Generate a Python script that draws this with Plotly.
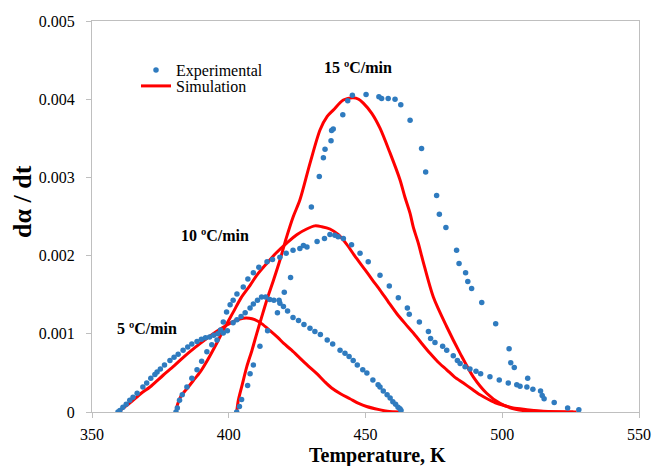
import plotly.graph_objects as go

# ---------------- data ----------------
exp5_T = [359.5, 360.2, 361.3, 362.5, 363.8, 365, 366.5, 368.6, 370, 371.5, 373, 373.8, 375, 376.5,
          378.5, 380, 381.5, 383.3, 385, 386.5, 388.4, 390, 391.5, 393, 394.5, 396, 398, 399.5,
          401.6, 403, 404.5, 406, 407.8, 409, 410.5, 412, 413.5, 415, 416.5, 418.7, 420, 421.5,
          423.5, 425.5, 427.5, 429.7, 431.5, 433.5, 436, 438, 440.7, 442.5, 444, 445.5, 447, 449,
          450.5, 452.7, 454.6, 455.3, 456.5, 457.9, 459, 460, 461, 461.9, 462.6, 463]
exp5_r = [0, 0.00002, 0.00006, 0.0001, 0.00015, 0.00019, 0.00024, 0.00032, 0.00037, 0.00043, 0.00048,
          0.00051, 0.00055, 0.0006, 0.00066, 0.0007, 0.00074, 0.00079, 0.00083, 0.00087, 0.0009,
          0.00093, 0.00095, 0.00096, 0.00098, 0.001, 0.00101, 0.00104, 0.00114, 0.00118, 0.00122,
          0.00127, 0.00133, 0.00138, 0.00143, 0.00147, 0.00147, 0.00144, 0.00143, 0.00139, 0.00135,
          0.00129, 0.00121, 0.00117, 0.00112, 0.00107, 0.00103, 0.00099, 0.00092, 0.00087, 0.00079,
          0.00075, 0.00071, 0.00066, 0.0006, 0.00054, 0.0005, 0.00041, 0.00035, 0.00032, 0.00027,
          0.00022, 0.00018, 0.00013, 0.0001, 0.00006, 0.00004, 0.00002]

exp10_T = [380.7, 381.2, 382, 383, 384.7, 386.5, 388.4, 390.1, 392, 393.8, 395.7, 397, 398, 399.2,
           400.5, 401.6, 403, 405.3, 407, 409, 411, 414, 416, 418.7, 421, 423.5, 426, 428.6, 432.3,
           435, 437, 438.8, 440, 441.9, 444.9, 448, 451, 455.3, 458.7, 462, 465.3, 466, 469.7, 473,
           473.8, 475.4, 478.2, 479.7, 482.1, 483.6, 484.6, 486.4, 488.2, 490.4, 492.1, 495.5, 498.9,
           502.2, 505.3, 506.5, 509, 511.2, 514, 514.6]
exp10_r = [0, 0.00005, 0.00015, 0.00022, 0.00032, 0.00043, 0.00054, 0.00065, 0.00077, 0.00086,
           0.00092, 0.00105, 0.00115, 0.00128, 0.00137, 0.00143, 0.00151, 0.0016, 0.0017, 0.00178,
           0.00185, 0.00192, 0.00195, 0.00198, 0.00203, 0.00207, 0.00209, 0.00211, 0.00218, 0.00222,
           0.00227, 0.00226, 0.00224, 0.00222, 0.00214, 0.00203, 0.00192, 0.00175, 0.00161, 0.00146,
           0.00133, 0.00125, 0.00115, 0.00103, 0.00094, 0.00089, 0.00084, 0.00079, 0.00072, 0.00066,
           0.00062, 0.00058, 0.00055, 0.00052, 0.00049, 0.00045, 0.00041, 0.00037, 0.00035, 0.00033,
           0.00032, 0.00029, 0.00027, 0.00021]

exp15_T = [402.9, 403.9, 404.7, 406.9, 407.8, 409, 411.4, 414.2, 417.8, 418.4, 420.3, 422.6, 427.3,
           430.2, 433.1, 434.6, 435.2, 437.4, 437.6, 438.2, 441.7, 443.5, 445.2, 450.2, 454.9, 455.9,
           458.3, 460.8, 462.9, 466.3, 470.5, 472, 476, 477, 479.4, 483.3, 484.2, 486.6, 487.4, 488.8,
           492.5, 497.6, 502.5, 503.1, 504.4, 509.3, 515.3, 519, 523.9, 528]
exp15_r = [0, 0.00007, 0.00016, 0.00034, 0.00049, 0.0006, 0.00084, 0.00104, 0.00127, 0.00143, 0.00153,
           0.00172, 0.00213, 0.00262, 0.00301, 0.00325, 0.00336, 0.00347, 0.0036, 0.00362, 0.0038,
           0.00398, 0.00405, 0.00406, 0.00403, 0.00401, 0.00401, 0.004, 0.00393, 0.00373, 0.00337,
           0.00307, 0.00277, 0.00253, 0.00236, 0.00207, 0.0019, 0.00178, 0.00167, 0.00158, 0.0014,
           0.00113, 0.00081, 0.00063, 0.00057, 0.00043, 0.00017, 0.00012, 0.00005, 0.00003]

sim5_T = [359.5, 364, 368, 371.2, 376, 380, 383.4, 387.5, 391.9, 395.5, 399.2, 402.5, 405.3, 407.5,
          409.5, 412, 415.1, 418, 420, 423, 426, 429, 432.2, 435, 437.5, 441, 444.3, 447.5, 450.4,
          455, 458, 463]
sim5_r = [0, 0.00012, 0.00024, 0.00032, 0.00047, 0.00059, 0.0007, 0.00082, 0.00094, 0.00103, 0.00111,
          0.00117, 0.0012, 0.0012, 0.00118, 0.00113, 0.00104, 0.00095, 0.00088, 0.00079, 0.00069,
          0.00059, 0.00049, 0.00039, 0.00031, 0.00023, 0.00017, 0.00011, 0.00007, 0.00003, 0.00001, 0]

sim10_T = [380.7, 381.3, 382.5, 385, 387, 389.5, 392, 395.6, 398.5, 401.7, 404.5, 407.8, 410.5, 413.9,
           417.5, 421.2, 425, 428.5, 431.5, 434, 437, 440, 443, 446, 449.8, 452.5, 455.3, 458.5,
           461.4, 464.5, 467.5, 470.5, 473.6, 476.5, 479.7, 482.5, 485.8, 489, 491.9, 495, 498,
           501, 504, 509, 515, 527.2]
sim10_r = [0, 0.0001, 0.0002, 0.00031, 0.0004, 0.00051, 0.00065, 0.00088, 0.00108, 0.00128, 0.00146,
           0.00162, 0.00176, 0.0019, 0.00204, 0.00216, 0.00227, 0.00234, 0.00238, 0.00237, 0.00234,
           0.00227, 0.00215, 0.002, 0.00182, 0.00169, 0.00156, 0.0014, 0.00126, 0.00113, 0.00101,
           0.00088, 0.00075, 0.00064, 0.00054, 0.00045, 0.00037, 0.00029, 0.00022, 0.00016, 0.00011,
           0.00008, 0.00005, 0.00003, 0.00001, 0]

sim15_T = [402.9, 403.5, 405, 406.6, 408.5, 410.2, 412, 413.9, 416.5, 418.7, 421, 423.6, 426, 429.7,
           433.4, 436, 438.2, 441.9, 445.5, 447.5, 449.2, 452.3, 455.3, 459, 462.6, 464.4, 466.3,
           467.5, 469.3, 471.1, 474.8, 479.7, 484.6, 489.4, 494.3, 499.2, 505.3, 511.4, 526]
sim15_r = [0, 0.00015, 0.00036, 0.00058, 0.00079, 0.001, 0.00121, 0.00143, 0.0017, 0.00194, 0.00222,
           0.0025, 0.00271, 0.00318, 0.00361, 0.00378, 0.00386, 0.00399, 0.00402, 0.004, 0.00395,
           0.00382, 0.00363, 0.00331, 0.00297, 0.00275, 0.00254, 0.00236, 0.00216, 0.00192, 0.00147,
           0.00109, 0.00075, 0.00045, 0.00024, 0.00011, 0.00003, 0.00001, 0]

rate_labels = ["5 ºC/min", "10 ºC/min", "15 ºC/min"]
label_T = [370.1, 395.0, 447.3]
label_r = [0.00107, 0.00226, 0.0044]

x_ticks = [350, 400, 450, 500, 550]
y_ticks = [0, 0.001, 0.002, 0.003, 0.004, 0.005]
y_ticktext = ["0", "0.001", "0.002", "0.003", "0.004", "0.005"]

# ---------------- style ----------------
BLUE = "#2F7BBF"
RED = "#FF0000"
SERIF = "Liberation Serif, serif"
AXIS_GRAY = "#BFBFBF"

W, H = 654, 466
L, T, PW, PH = 92, 21, 547, 391
R, B = W - L - PW, H - T - PH


def px_to_paper_x(px):
    return (px - L) / PW


def px_to_paper_y(py):
    return (T + PH - py) / PH


fig = go.Figure()

exp_sets = [(exp5_T, exp5_r), (exp10_T, exp10_r), (exp15_T, exp15_r)]
sim_sets = [(sim5_T, sim5_r), (sim10_T, sim10_r), (sim15_T, sim15_r)]

for i, (t, r) in enumerate(sim_sets):
    fig.add_trace(go.Scatter(
        x=t, y=r, mode="lines", name="Simulation",
        line=dict(color=RED, width=3, shape="spline", smoothing=0.8),
        showlegend=(i == 0), legend="legend2", hoverinfo="skip"))

for i, (t, r) in enumerate(exp_sets):
    fig.add_trace(go.Scatter(
        x=t, y=r, mode="markers", name="Experimental",
        marker=dict(color=BLUE, size=5.5, line=dict(width=0)),
        showlegend=(i == 0), legend="legend"))

for txt, xt, yt in zip(rate_labels, label_T, label_r):
    fig.add_annotation(x=xt, y=yt, text=txt, showarrow=False,
                       font=dict(family=SERIF, size=16, color="black", weight="bold"))

fig.add_annotation(xref="paper", yref="paper", x=px_to_paper_x(377), y=px_to_paper_y(455),
                   text="Temperature, K", showarrow=False, yanchor="middle", xanchor="center",
                   font=dict(family=SERIF, size=20, color="black", weight="bold"))
fig.add_annotation(xref="paper", yref="paper", x=px_to_paper_x(22), y=px_to_paper_y(202),
                   text="dα / dt", showarrow=False, textangle=-90, yanchor="middle", xanchor="center",
                   font=dict(family=SERIF, size=26, color="black", weight="bold"))

fig.update_layout(
    template="none",
    width=W, height=H,
    margin=dict(l=L, r=R, t=T, b=B, pad=0, autoexpand=False),
    paper_bgcolor="white", plot_bgcolor="white",
    font=dict(family=SERIF, size=16, color="black"),
    legend=dict(x=px_to_paper_x(136), y=px_to_paper_y(53), xanchor="left", yanchor="top",
                bgcolor="rgba(0,0,0,0)", font=dict(family=SERIF, size=16, color="black"),
                borderwidth=0, itemwidth=30),
    legend2=dict(x=px_to_paper_x(136), y=px_to_paper_y(69), xanchor="left", yanchor="top",
                 bgcolor="rgba(0,0,0,0)", font=dict(family=SERIF, size=16, color="black"),
                 borderwidth=0, itemwidth=30),
    xaxis=dict(range=[350, 550], tickvals=x_ticks, showgrid=False, zeroline=False,
               automargin=False,
               showline=True, linecolor=AXIS_GRAY, linewidth=1.3, mirror=True,
               ticks="outside", ticklen=5, tickcolor=AXIS_GRAY, ticklabelstandoff=3,
               tickfont=dict(family=SERIF, size=16, color="black")),
    yaxis=dict(range=[0, 0.005], tickvals=y_ticks, ticktext=y_ticktext, showgrid=False,
               automargin=False,
               zeroline=False, showline=True, linecolor=AXIS_GRAY, linewidth=1.3, mirror=True,
               ticks="outside", ticklen=5, tickcolor=AXIS_GRAY, ticklabelstandoff=8,
               tickfont=dict(family=SERIF, size=16, color="black")),
)

# remove the default 8px page margin so the 654x466 figure fills the window exactly
fig.write_html("out.html", config={"displayModeBar": False},
               post_script="document.body.style.margin='0';"
                           "document.body.style.overflow='hidden';")
